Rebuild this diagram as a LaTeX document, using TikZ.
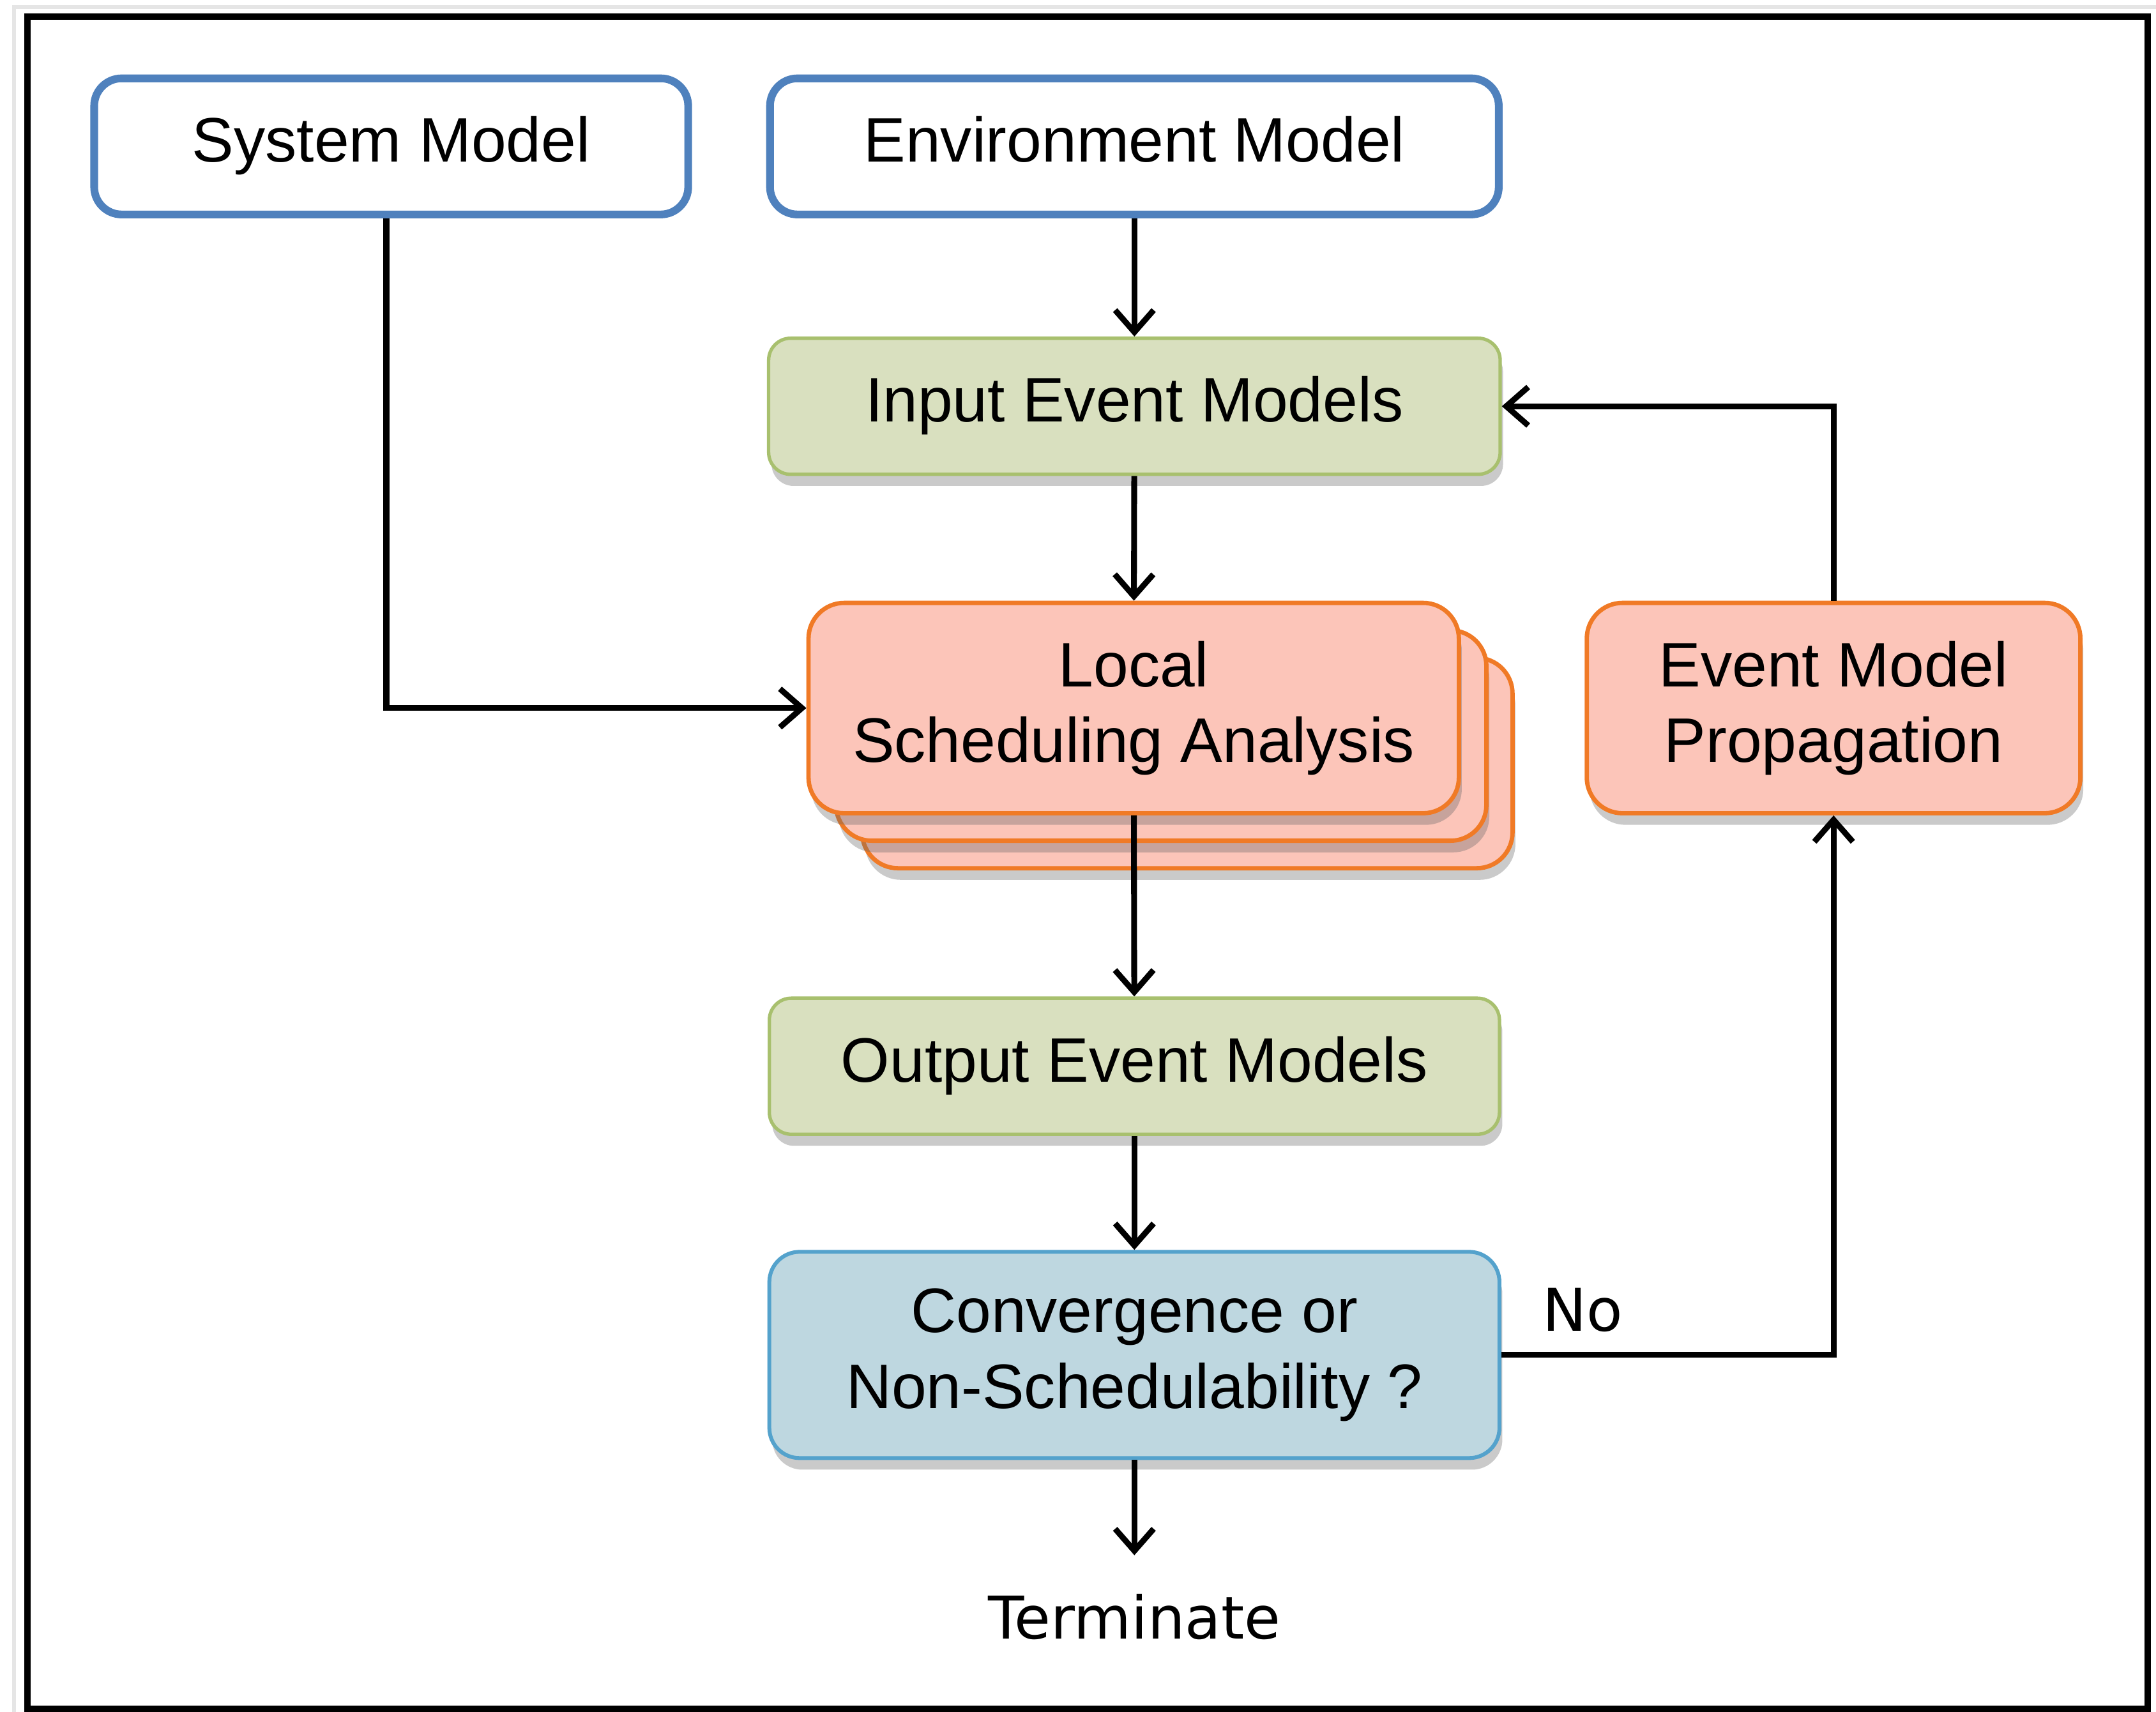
\documentclass[tikz,border=0pt]{standalone}
\usepackage{fontspec}
\setmainfont{Liberation Sans}
\newfontfamily\labelfont{DejaVu Sans}
\usetikzlibrary{arrows.meta,shadows}
\definecolor{modelblue}{RGB}{79,129,189}
\definecolor{eventfill}{RGB}{217,224,191}
\definecolor{eventline}{RGB}{168,192,110}
\definecolor{analysisfill}{RGB}{252,197,185}
\definecolor{analysisline}{RGB}{240,122,38}
\definecolor{checkfill}{RGB}{190,215,224}
\definecolor{checkline}{RGB}{84,162,204}

\begin{document}
\begin{tikzpicture}[x=1cm, y=1cm,
	every node/.style={font=\fontsize{13}{15.6}\selectfont, align=center},
	>={Straight Barb[length=1.6mm, width=2.8mm]},
	arr/.style={->, line width=1.2pt},
	box/.style={rectangle, inner sep=0pt, minimum height=0.99cm},
	oneline/.style={text height=9.3pt, text depth=2.8pt},
	softshadow/.style={drop shadow={shadow xshift=0.6pt, shadow yshift=-2.4pt, opacity=0.35, fill=black!60}},
	modelbox/.style={box, oneline, draw=modelblue, fill=white, line width=1.6pt, rounded corners=0.2cm},
	eventbox/.style={box, oneline, draw=eventline, fill=eventfill, line width=0.7pt, rounded corners=0.16cm, softshadow},
	analysisbox/.style={box, draw=analysisline, fill=analysisfill, line width=0.9pt, rounded corners=0.26cm, minimum height=1.53cm, softshadow},
	checkbox/.style={box, draw=checkline, fill=checkfill, line width=0.8pt, rounded corners=0.22cm, minimum height=1.5cm, softshadow}]
	\useasboundingbox (0,0) rectangle (15.68,-12.45);
	\draw[gray!20, line width=0.8pt] (0.1,-12.45) -- (0.1,-0.05) -- (15.68,-0.05);
	\draw[line width=1.4pt] (0.2,-0.12) rectangle (15.62,-12.43);

	\node[modelbox, minimum width=4.32cm] (sysm) at (2.845,-1.065) {System Model};
	\node[modelbox, minimum width=5.30cm] (envm) at (8.25,-1.065) {Environment Model};
	\node[eventbox, minimum width=5.32cm] (inem) at (8.25,-2.955) {Input Event Models};
	\node[analysisbox, minimum width=4.73cm] (loc3) at (8.635,-5.55) {};
	\node[analysisbox, minimum width=4.73cm] (loc2) at (8.445,-5.35) {};
	\node[analysisbox, minimum width=4.73cm] (loc) at (8.245,-5.15) {Local\\Scheduling Analysis};
	\node[analysisbox, minimum width=3.59cm] (emp) at (13.335,-5.15) {Event Model\\Propagation};
	\node[eventbox, minimum width=5.31cm] (outem) at (8.25,-7.755) {Output Event Models};
	\node[checkbox, minimum width=5.31cm] (conv) at (8.25,-9.855) {Convergence or\\Non-Schedulability ?};
	\node[font=\labelfont\fontsize{12.2}{14}\selectfont] (term) at (8.25,-11.76) {Terminate};
	\node[font=\labelfont\fontsize{12.2}{14}\selectfont] (no) at (11.51,-9.53) {No};

	\draw[arr] (sysm.south -| 2.81,0) |- (loc.west);
	\draw[arr] (envm) -- (inem);
	\draw[arr] (inem) -- (loc);
	\draw[arr] (loc) -- (outem);
	\draw[arr] (outem) -- (conv);
	\draw[arr] (conv) -- ([yshift=4.5pt]term.north);
	\draw[arr] (conv.east) -| (emp.south);
	\draw[arr] (emp.north) |- (inem.east);
\end{tikzpicture}
\end{document}
